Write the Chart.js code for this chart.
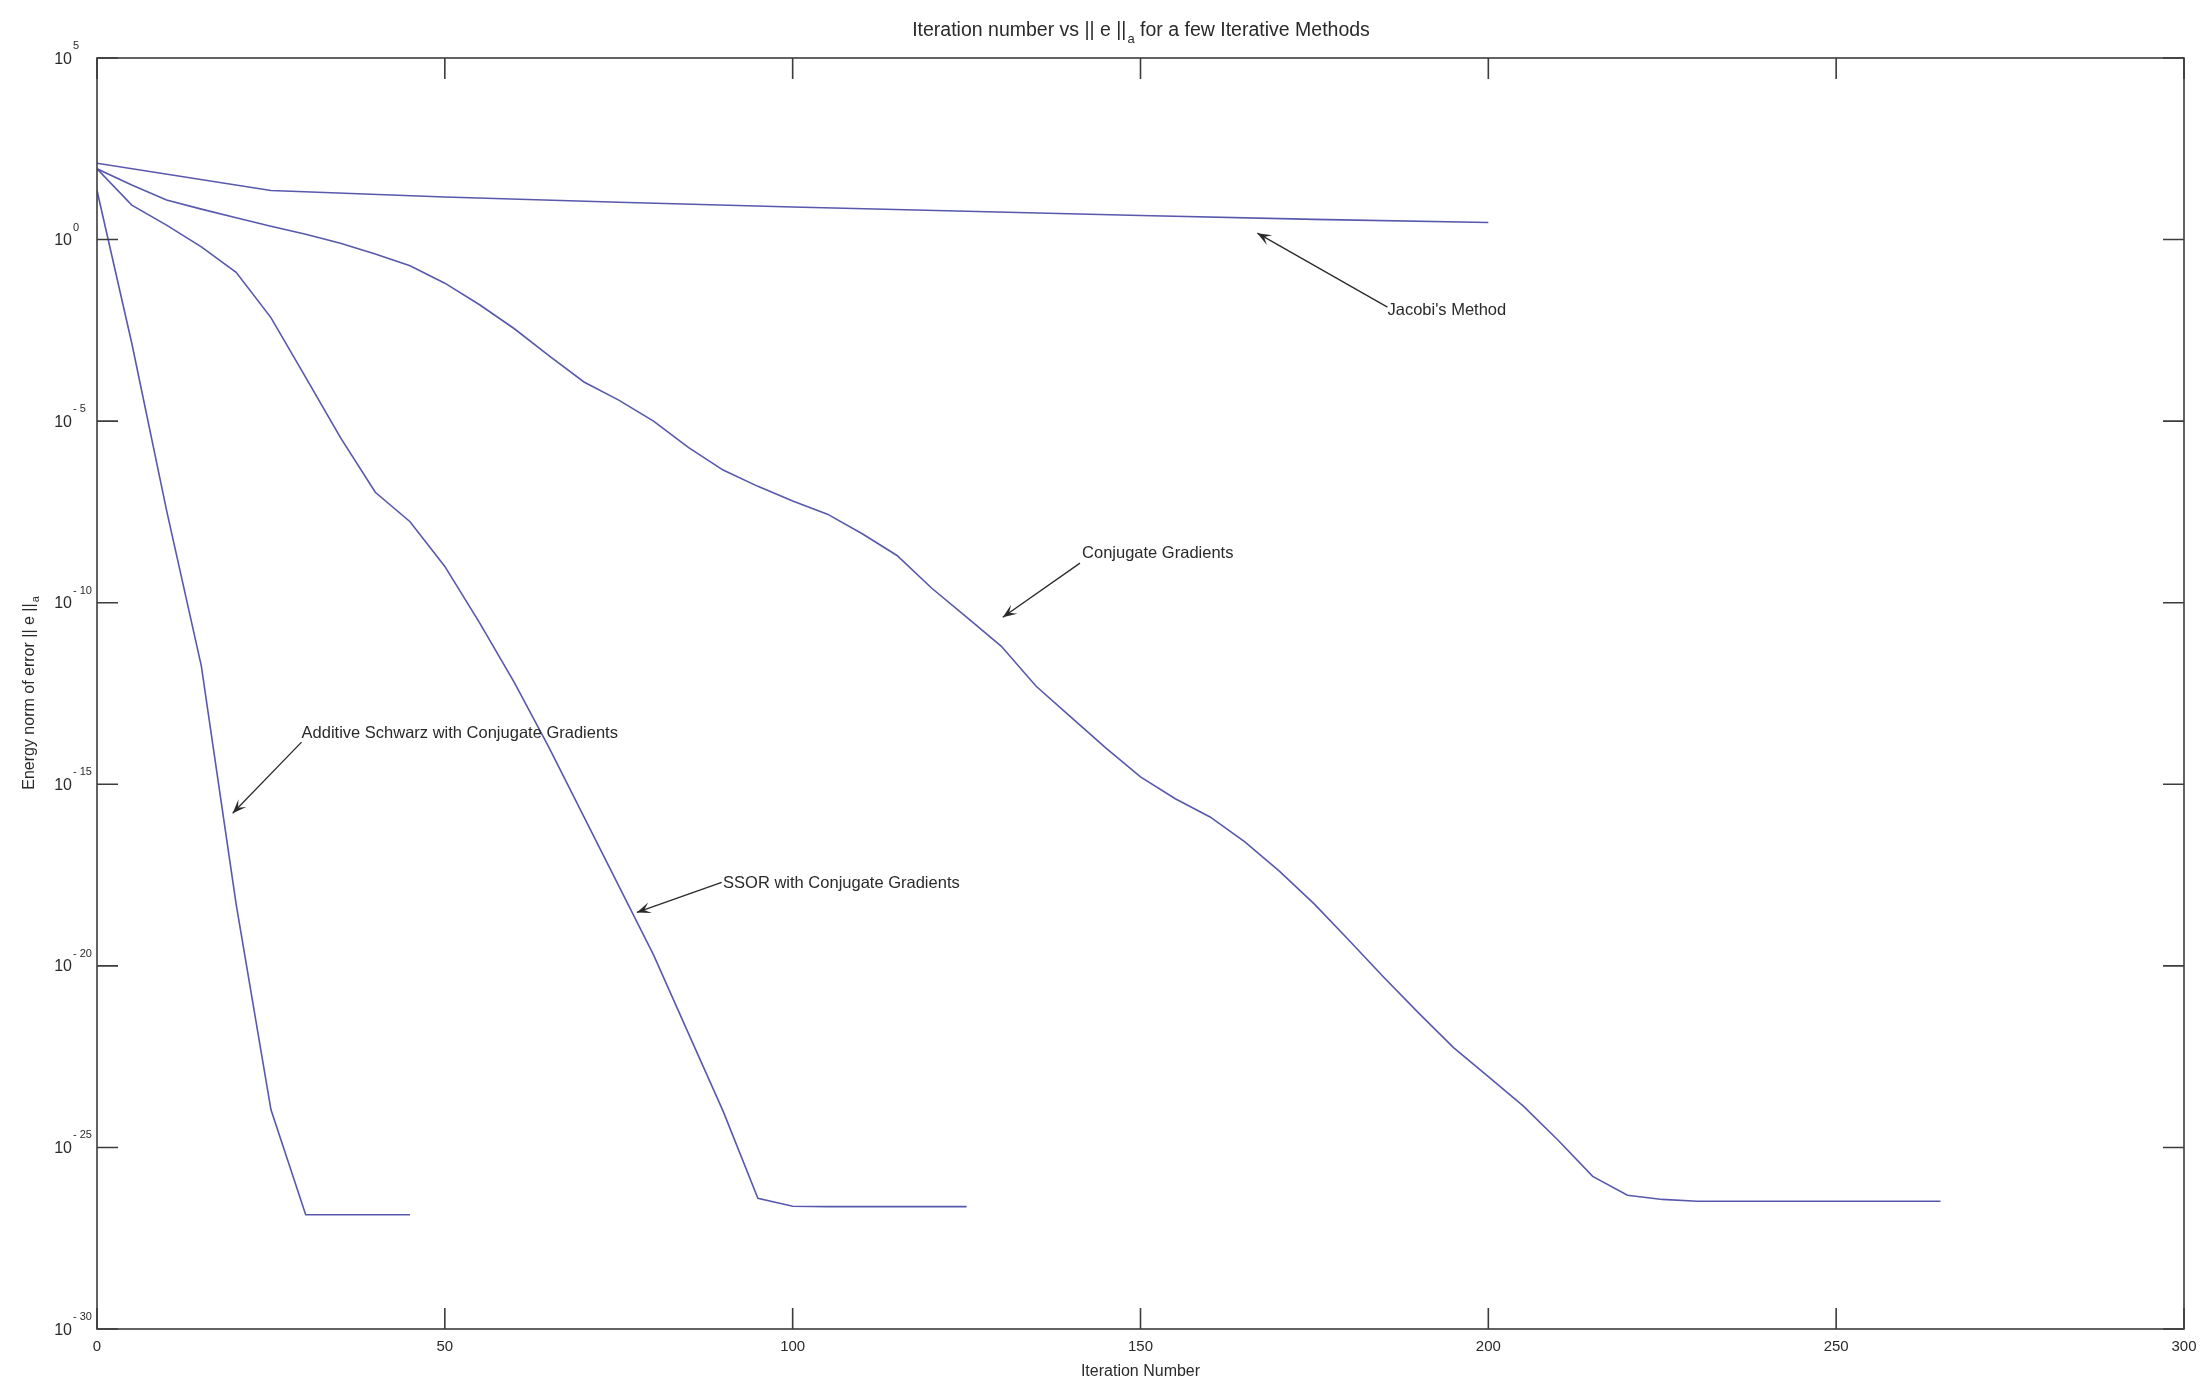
<!DOCTYPE html>
<html><head><meta charset="utf-8">
<script src="https://cdn.jsdelivr.net/npm/chart.js@4.4.0/dist/chart.umd.min.js"></script>
<style>html,body{margin:0;padding:0;background:#fff;}canvas{display:block;}</style>
</head><body>
<canvas id="c" width="2209" height="1380"></canvas>
<script>
// ---- data (iteration number, energy norm of error) ----
const jacobiIter = [0,25,50,75,100,125,150,175,200];
const jacobiErr  = [1.26e2,22.4,14.8,10.7,7.9,6.0,4.6,3.6,2.95];

const cgIter = [0,5,10,15,20,25,30,35,40,45,50,55,60,65,70,75,80,85,90,95,100,105,110,115,120,125,130,135,140,145,150,155,160,165,170,175,180,185,190,195,200,205,210,215,220,225,230,235,240,245,250,255,260,265];
const cgErr  = [8.9e1,3.2e1,12.3,6.9,4.0,2.34,1.41,0.79,0.40,0.19,6.3e-2,1.6e-2,3.5e-3,6.3e-4,1.2e-4,3.8e-5,1.0e-5,1.9e-6,4.5e-7,1.6e-7,6.3e-8,2.75e-8,7.9e-9,2.0e-9,2.5e-10,4.0e-11,6.3e-12,5.0e-13,7.1e-14,1.0e-14,1.6e-15,4.0e-16,1.26e-16,2.6e-17,4.0e-18,5.0e-19,5.0e-20,4.8e-21,5.0e-22,5.6e-23,8.9e-24,1.4e-24,1.6e-25,1.6e-26,4.8e-27,3.7e-27,3.3e-27,3.3e-27,3.3e-27,3.3e-27,3.3e-27,3.3e-27,3.3e-27,3.3e-27];

const ssorIter = [0,5,10,15,20,25,30,35,40,45,50,55,60,65,70,75,80,85,90,95,100,105,110,115,120,125];
const ssorErr  = [8.9e1,8.9,2.5,0.63,0.126,7.1e-3,1.6e-4,3.5e-6,1.1e-7,1.7e-8,1.0e-9,2.8e-11,6.3e-13,1.0e-14,1.26e-16,1.6e-18,2.0e-20,1.4e-22,1.0e-24,4.0e-27,2.4e-27,2.35e-27,2.35e-27,2.35e-27,2.35e-27,2.35e-27];

const asIter = [0,5,10,15,20,25,30,35,40,45];
const asErr  = [22.4,1.4e-3,3.5e-8,1.8e-12,5.0e-19,1.1e-24,1.4e-27,1.4e-27,1.4e-27,1.4e-27];

const xTicks = [0,50,100,150,200,250,300];
const yTickExponents = [5,0,-5,-10,-15,-20,-25,-30];

const titleMain = "Iteration number vs || e ||";
const titleSub = "a";
const titleRest = " for a few Iterative Methods";
const xLabel = "Iteration Number";
const yLabelMain = "Energy norm of error || e ||";
const yLabelSub = "a";

// annotations: text, text anchor (iteration, value), arrow tail, arrow head
const annLabels = ["Jacobi's Method","Conjugate Gradients","Additive Schwarz with Conjugate Gradients","SSOR with Conjugate Gradients"];
const annText   = [[185.5,1.15e-2],[141.6,2.3e-9],[29.4,2.5e-14],[90.0,1.86e-18]];
const annTail   = [[185.5,1.38e-2],[141.3,1.23e-9],[29.4,1.45e-14],[89.8,2.0e-18]];
const annHead   = [[166.8,1.5],[130.2,4.0e-11],[19.5,1.6e-16],[77.6,2.95e-19]];

const lineColor = '#5858ad';
const mk = (xs, ys) => xs.map((x,i)=>({x:x, y:ys[i]}));
const ds = (label, xs, ys) => ({label, data: mk(xs,ys), borderColor: lineColor, borderWidth: 1.6, pointRadius: 0, tension: 0, fill: false});

const decor = {
  id: 'decor',
  afterDraw(chart) {
    const ctx = chart.ctx, a = chart.chartArea, xs = chart.scales.x, ys = chart.scales.y;
    ctx.save();
    // frame
    ctx.strokeStyle = '#3c3c3c'; ctx.lineWidth = 1.6;
    ctx.strokeRect(a.left, a.top, a.right - a.left, a.bottom - a.top);
    // ticks
    const tl = 21;
    ctx.beginPath();
    xTicks.forEach(v => { const px = xs.getPixelForValue(v);
      ctx.moveTo(px, a.bottom); ctx.lineTo(px, a.bottom - tl);
      ctx.moveTo(px, a.top); ctx.lineTo(px, a.top + tl); });
    yTickExponents.forEach(e => { const py = ys.getPixelForValue(Math.pow(10, e));
      ctx.moveTo(a.left, py); ctx.lineTo(a.left + tl, py);
      ctx.moveTo(a.right, py); ctx.lineTo(a.right - tl, py); });
    ctx.stroke();
    ctx.fillStyle = '#2a2a2a';
    // x tick labels
    ctx.font = '15px "Liberation Sans", Arial, sans-serif';
    ctx.textAlign = 'center'; ctx.textBaseline = 'alphabetic';
    xTicks.forEach(v => ctx.fillText(String(v), xs.getPixelForValue(v), a.bottom + 22));
    // y tick labels 10^e
    yTickExponents.forEach(e => { const py = ys.getPixelForValue(Math.pow(10, e));
      ctx.font = '16px "Liberation Sans", Arial, sans-serif';
      ctx.textAlign = 'right'; ctx.fillText('10', a.left - 25, py + 5.5);
      ctx.font = '11px "Liberation Sans", Arial, sans-serif';
      ctx.textAlign = 'left'; ctx.fillText(e < 0 ? '- ' + Math.abs(e) : String(e), a.left - 24, py - 9); });
    // title
    const cx = (a.left + a.right) / 2;
    ctx.font = '19.5px "Liberation Sans", Arial, sans-serif';
    const w1 = ctx.measureText(titleMain).width, w3 = ctx.measureText(titleRest).width;
    ctx.font = '13px "Liberation Sans", Arial, sans-serif';
    const w2 = ctx.measureText(titleSub).width;
    let tx = cx - (w1 + w2 + w3) / 2;
    ctx.textAlign = 'left';
    ctx.font = '19.5px "Liberation Sans", Arial, sans-serif'; ctx.fillText(titleMain, tx, 36);
    ctx.font = '13px "Liberation Sans", Arial, sans-serif'; ctx.fillText(titleSub, tx + w1 + 1, 43);
    ctx.font = '19.5px "Liberation Sans", Arial, sans-serif'; ctx.fillText(titleRest, tx + w1 + w2 + 1, 36);
    // x label
    ctx.font = '16px "Liberation Sans", Arial, sans-serif'; ctx.textAlign = 'center';
    ctx.fillText(xLabel, cx, a.bottom + 47);
    // y label (rotated)
    ctx.save();
    ctx.translate(34, (a.top + a.bottom) / 2);
    ctx.rotate(-Math.PI / 2);
    ctx.font = '16px "Liberation Sans", Arial, sans-serif';
    const yw1 = ctx.measureText(yLabelMain).width;
    ctx.font = '11px "Liberation Sans", Arial, sans-serif';
    const yw2 = ctx.measureText(yLabelSub).width;
    let ly = -(yw1 + yw2) / 2;
    ctx.textAlign = 'left';
    ctx.font = '16px "Liberation Sans", Arial, sans-serif'; ctx.fillText(yLabelMain, ly, 0);
    ctx.font = '11px "Liberation Sans", Arial, sans-serif'; ctx.fillText(yLabelSub, ly + yw1 + 1, 5);
    ctx.restore();
    // annotations with arrows
    ctx.font = '16.5px "Liberation Sans", Arial, sans-serif';
    ctx.textAlign = 'left'; ctx.textBaseline = 'middle';
    ctx.strokeStyle = '#2a2a2a'; ctx.lineWidth = 1.3;
    annLabels.forEach((t, i) => {
      const tx0 = xs.getPixelForValue(annText[i][0]), ty0 = ys.getPixelForValue(annText[i][1]);
      ctx.fillText(t, tx0, ty0);
      const x1 = xs.getPixelForValue(annTail[i][0]), y1 = ys.getPixelForValue(annTail[i][1]);
      const x2 = xs.getPixelForValue(annHead[i][0]), y2 = ys.getPixelForValue(annHead[i][1]);
      ctx.beginPath(); ctx.moveTo(x1, y1); ctx.lineTo(x2, y2); ctx.stroke();
      const ang = Math.atan2(y2 - y1, x2 - x1), L = 14, W = 5.5;
      const bx = x2 - L * Math.cos(ang), by = y2 - L * Math.sin(ang);
      ctx.beginPath(); ctx.moveTo(x2, y2);
      ctx.lineTo(bx + W * Math.sin(ang), by - W * Math.cos(ang));
      ctx.lineTo(bx + 0.45 * L * Math.cos(ang), by + 0.45 * L * Math.sin(ang));
      ctx.lineTo(bx - W * Math.sin(ang), by + W * Math.cos(ang));
      ctx.closePath(); ctx.fill();
    });
    ctx.restore();
  }
};

new Chart(document.getElementById('c').getContext('2d'), {
  type: 'line',
  data: { datasets: [
    ds("Jacobi's Method", jacobiIter, jacobiErr),
    ds('Conjugate Gradients', cgIter, cgErr),
    ds('SSOR with Conjugate Gradients', ssorIter, ssorErr),
    ds('Additive Schwarz with Conjugate Gradients', asIter, asErr)
  ]},
  options: {
    responsive: false, animation: false, devicePixelRatio: 1,
    layout: { padding: { left: 97, right: 25, top: 58, bottom: 51 } },
    plugins: { legend: { display: false }, tooltip: { enabled: false }, title: { display: false } },
    scales: {
      x: { type: 'linear', min: 0, max: 300, ticks: { display: false }, grid: { display: false }, border: { display: false }, afterFit(s) { s.height = 0; } },
      y: { type: 'logarithmic', min: 1e-30, max: 1e5, ticks: { display: false }, grid: { display: false }, border: { display: false }, afterFit(s) { s.width = 0; } }
    }
  },
  plugins: [decor]
});
</script>
</body></html>
